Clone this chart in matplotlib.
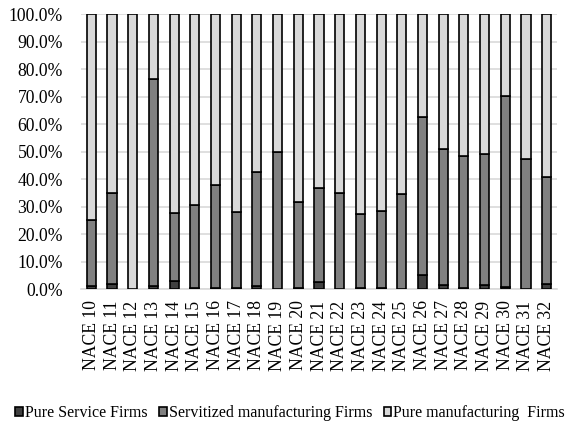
import matplotlib
matplotlib.use("Agg")
import matplotlib.pyplot as plt
import numpy as np
from matplotlib.ticker import FuncFormatter

categories = ["NACE 10", "NACE 11", "NACE 12", "NACE 13", "NACE 14", "NACE 15", "NACE 16",
              "NACE 17", "NACE 18", "NACE 19", "NACE 20", "NACE 21", "NACE 22", "NACE 23",
              "NACE 24", "NACE 25", "NACE 26", "NACE 27", "NACE 28", "NACE 29", "NACE 30",
              "NACE 31", "NACE 32"]
pure_service = [1.2, 2.0, 0.0, 1.2, 3.0, 0.6, 0.5, 0.6, 1.2, 0.0, 0.6, 2.8, 0.0, 0.6,
                0.6, 0.0, 5.3, 1.5, 0.6, 1.5, 1.0, 0.0, 2.0]
# cumulative top of the servitized segment (service + servitized), in %
cum_top = [25.2, 35.1, 0.0, 76.5, 27.6, 30.7, 37.9, 28.1, 42.5, 49.9, 31.7, 36.8, 34.9, 27.3,
           28.4, 34.5, 62.8, 51.0, 48.4, 49.3, 70.4, 47.5, 40.8]
servitized = [c - s for c, s in zip(cum_top, pure_service)]
pure_manuf = [100 - c for c in cum_top]
series_names = ["Pure Service Firms", "Servitized manufacturing Firms", "Pure manufacturing  Firms"]
colors = ["#404040", "#808080", "#d9d9d9"]

plt.rcParams['font.family'] = ['Liberation Serif', 'DejaVu Serif']
fig = plt.figure(figsize=(5.69, 4.25), dpi=100)
ax = fig.add_axes([81/569, 1 - 289.3/425, (557 - 81)/569, (289.3 - 14.3)/425])

x = np.arange(len(categories))
w = 0.44
bottoms = np.zeros(len(categories))
handles = []
for vals, col, name in zip([pure_service, servitized, pure_manuf], colors, series_names):
    h = ax.bar(x, vals, w, bottom=bottoms, color=col, edgecolor="black", linewidth=1.2,
               label=name, zorder=3)
    handles.append(h)
    bottoms += np.array(vals)

ax.set_xlim(-0.5, len(categories) - 0.5)
ax.set_ylim(0, 100)
ax.set_yticks(np.arange(0, 101, 10))
ax.yaxis.set_major_formatter(FuncFormatter(lambda v, p: f"{v:.1f}%"))
ax.grid(axis="y", color="#d9d9d9", linewidth=1.2, zorder=0)
for s in ["left", "right", "top"]:
    ax.spines[s].set_visible(False)
ax.spines["bottom"].set_color("#d9d9d9")
ax.spines["bottom"].set_linewidth(1.2)
ax.tick_params(axis="both", length=0, labelsize=12.7, colors="black")
ax.tick_params(axis="y", pad=13)
ax.tick_params(axis="x", pad=8)
ax.set_xticks(x)
ax.set_xticklabels(categories, rotation=90)

fig.legend(handles=handles, labels=series_names, loc="center", bbox_to_anchor=(0.51, 1 - 413/425),
           ncol=3, frameon=False, fontsize=11.5, handlelength=0.5, handleheight=0.5,
           handletextpad=0.12, columnspacing=0.7, borderaxespad=0, borderpad=0)

fig.savefig("out.png", dpi=100)
